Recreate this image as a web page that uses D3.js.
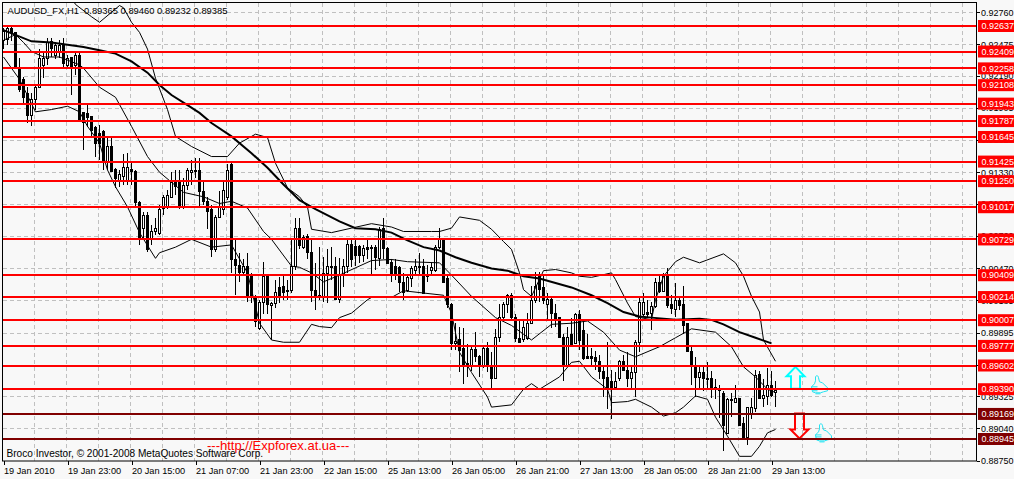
<!DOCTYPE html>
<html>
<head>
<meta charset="utf-8">
<script src="https://cdn.jsdelivr.net/npm/d3@7"></script>
<style>
  html, body { margin: 0; padding: 0; background: #f8f8f8; overflow: hidden; }
  svg { display: block; font-family: "Liberation Sans", sans-serif; }
</style>
</head>
<body>
<div id="chart"></div>
<script>
//~~~~~~~~~~~~~~~~~~~~~~~~~~~~~~~~~~~~
// Data, prices x 10000, one entry per H1 bar
//~~~~~~~~~~~~~~~~~~~~~~~~~~~~~~~~~~~~
const opens = [
  9251,9252,9262,9258,9226,9216,9204,9184,9198,9209,9229,9235,9250,9238,9241,9247,9229,9236,9229,9238,
  9187,9186,9183,9173,9168,9170,9142,9156,9136,9126,9130,9126,9136,9134,9106,9083,9095,9074,9080,9079,
  9101,9102,9111,9124,9124,9102,9122,9133,9134,9135,9116,9107,9100,9064,9093,9100,9111,9140,9055,9050,
  9044,9049,9041,9021,8994,9017,9040,9014,9016,9030,9031,9028,9028,9049,9083,9066,9076,9062,9028,9021,
  9021,9043,9049,9049,9020,9041,9049,9069,9067,9067,9059,9066,9066,9066,9056,9083,9065,9053,9049,9048,
  9035,9028,9038,9046,9048,9049,9041,9046,9046,9066,9073,9038,9015,8980,8984,8976,8962,8961,8975,8969,
  8961,8976,8961,8949,8986,9004,9015,9023,9004,8985,8984,8985,8998,9019,9040,9030,9015,9020,9007,9004,
  8986,8961,8988,8980,9006,8992,8969,8969,8968,8964,8955,8950,8946,8941,8949,8964,8956,8949,8954,8981,
  9006,9008,9007,9013,9035,9027,9040,9015,9011,9019,9015,8998,8973,8961,8950,8954,8948,8949,8941,8939,
  8936,8900,8930,8928,8931,8909,8896,8918,8922,8953,8931,8933,8943,8936.5
];
const highs = [
  9262,9263,9263,9258,9235,9218,9209,9204,9211,9243,9240,9253,9253,9249,9251,9253,9238,9236,9240,9240,
  9187,9195,9183,9174,9175,9171,9165,9165,9137,9135,9149,9150,9143,9135,9107,9097,9097,9086,9092,9104,
  9113,9117,9133,9135,9135,9128,9137,9144,9146,9146,9124,9111,9104,9095,9116,9124,9140,9141,9073,9061,
  9055,9061,9043,9023,9019,9053,9041,9017,9037,9039,9040,9037,9074,9092,9092,9077,9078,9073,9052,9066,
  9057,9064,9066,9057,9056,9055,9073,9073,9073,9068,9068,9073,9068,9068,9084,9092,9066,9055,9055,9049,
  9043,9041,9049,9055,9061,9055,9050,9052,9068,9083,9074,9041,9016,8998,8995,8994,8979,8977,8990,8970,
  8977,8981,8972,8993,9015,9017,9024,9025,9006,9001,9001,9007,9031,9044,9044,9040,9025,9022,9015,9004,
  8988,8995,9003,9007,9010,9001,8988,8976,8973,8970,8959,8981,8956,8954,8965,8970,8972,8961,8983,9022,
  9025,9019,9017,9038,9040,9043,9047,9023,9034,9022,9031,8998,8977,8968,8961,8961,8963,8955,8948,8943,
  8937,8931,8936,8943,8931,8914,8923,8931,8956,8955,8948,8958,8955,8946
];
const lows = [
  9243,9247,9250,9225,9205,9195,9177,9174,9189,9209,9217,9229,9236,9234,9235,9226,9225,9202,9220,9178,
  9153,9173,9165,9147,9144,9135,9135,9133,9119,9120,9122,9122,9122,9102,9068,9074,9062,9068,9077,9077,
  9095,9100,9110,9113,9100,9100,9117,9122,9128,9102,9104,9082,9057,9062,9092,9095,9108,9043,9023,9035,
  9040,9017,9016,8995,8992,9006,9006,8983,9012,9016,9019,9019,9025,9046,9064,9064,9055,9017,9010,9019,
  9017,9016,9037,9019,9016,9030,9043,9048,9049,9052,9053,9055,9041,9046,9049,9055,9052,9035,9037,9026,
  9019,9026,9030,9041,9041,9024,9035,9040,9044,9064,9035,9012,8974,8974,8954,8944,8950,8955,8963,8950,
  8958,8954,8938,8948,8981,9001,9007,9001,8981,8980,8981,8983,8997,9016,9017,9015,9001,8994,8995,8986,
  8946,8959,8977,8979,8974,8965,8967,8959,8956,8948,8932,8921,8912,8939,8946,8955,8941,8940,8932,8972,
  9004,9004,8992,9012,9025,9026,9012,9006,9004,9010,8988,8972,8943,8932,8940,8937,8939,8931,8930,8913,
  8884,8900,8914,8927,8906,8894,8889,8912,8919,8931,8923,8925,8932,8923.2
];
const closes = [
  9259,9262,9258,9226,9207,9200,9184,9198,9209,9235,9235,9249,9244,9247,9247,9231,9235,9226,9238,9180,
  9178,9182,9171,9159,9159,9142,9156,9134,9128,9131,9138,9138,9134,9106,9074,9095,9064,9080,9083,9100,
  9111,9113,9124,9121,9102,9122,9135,9135,9135,9116,9107,9098,9064,9093,9102,9117,9135,9055,9050,9044,
  9049,9023,9021,9000,9017,9040,9015,9016,9026,9023,9026,9027,9049,9083,9068,9075,9062,9028,9021,9023,
  9043,9049,9048,9020,9041,9049,9069,9055,9059,9059,9065,9064,9065,9057,9082,9065,9052,9041,9041,9035,
  9026,9039,9047,9049,9049,9025,9040,9048,9066,9074,9035,9015,8980,8982,8974,8961,8961,8975,8969,8961,
  8976,8961,8949,8986,9004,9015,9023,9004,8985,8981,8995,8998,9019,9031,9029,9019,9020,9007,9003,8986,
  8961,8986,8979,9006,8983,8967,8967,8967,8964,8955,8949,8941,8940,8946,8964,8956,8949,8954,8981,9017,
  9017,9006,9013,9035,9027,9040,9014,9012,9019,9014,8996,8973,8960,8950,8954,8949,8949,8941,8939,8938,
  8907,8930,8929,8931,8907,8896,8923,8923,8952,8931,8934,8943,8934,8938.5
];

const maBars = [0,7,12,16,20,24,28,32,36,39,42,46,49,52,57,62,66,70,74,78,84,88,93,97,101,105,109,113,117,122,126,130,134,138,142,147,151,155,159,162,168,174,177,180,184,188,192];
const maValues = [9260,9250,9249,9247,9245,9242,9239,9232,9222,9211,9202,9193,9186,9177,9165,9150,9137,9122,9108,9100,9089,9083,9082,9079,9072,9066,9063,9057,9052,9047,9045,9040,9038,9034,9030,9023,9016,9008,9004,9003,9001,9002,9001,8997,8990,8985,8980];

const upperBars = [17,18,22,24,27,29,30,32,34,36,38,41,43,47,52,56,59,63,66,68,71,74,76,77,82,87,92,97,100,107,109,112,114,119,122,125,127,129,130,132,135,138,142,144,147,152,153,156,158,162,163,165,168,170,174,180,183,185,187,189,190,193];
const upperValues = [9289,9283,9272,9267,9276,9282,9280,9267,9258,9243,9217,9189,9165,9156,9147,9147,9159,9167,9164,9141,9119,9111,9102,9082,9079,9083,9087,9084,9080,9080,9080,9083,9093,9090,9082,9071,9064,9043,9028,9022,9045,9046,9043,9040,9039,9043,9037,9016,9004,9001,9019,9040,9053,9057,9052,9060,9052,9040,9022,9008,8983,8964];

const middleBars = [0,3,5,7,10,14,19,20,24,28,32,36,39,42,45,50,54,57,61,65,67,72,74,77,80,84,92,97,101,109,112,117,123,127,132,137,142,146,150,154,158,164,168,172,178,182,185,188,191,193];
const middleValues = [9251,9256,9249,9241,9236,9236,9229,9226,9209,9200,9174,9147,9133,9124,9115,9111,9105,9107,9101,9080,9073,9049,9048,9043,9035,9041,9054,9055,9053,9052,9041,9022,9003,8996,8983,8997,8998,9000,8990,8974,8968,8977,8985,8993,8990,8977,8959,8950,8939,8936];

const lowerBars = [0,4,8,12,16,19,21,24,26,28,31,34,38,39,43,47,52,57,61,64,67,70,74,77,79,82,84,87,91,92,97,100,105,110,112,114,117,121,122,127,130,132,134,139,142,144,147,151,152,156,158,162,165,168,170,173,176,178,181,184,187,189,191,193];
const lowerValues = [9236,9216,9187,9189,9192,9187,9174,9159,9135,9120,9102,9079,9056,9061,9066,9073,9066,9068,9043,8998,8983,8981,8981,8997,8995,8994,9003,9007,9019,9021,9021,9027,9025,9023,9007,8972,8954,8932,8923,8925,8939,8944,8939,8950,8963,8964,8950,8939,8927,8928,8930,8923,8915,8918,8923,8933,8930,8914,8897,8879,8879,8888,8900,8903];

// horizontal levels with their labels
const redLevels = [0.92637,0.92409,0.92258,0.92108,0.91943,0.91787,0.91645,0.91425,0.91250,0.91017,0.90729,0.90409,0.90214,0.90007,0.89777,0.89602,0.89390];
const darkLevels = [0.89169,0.88945];

const priceTicks = [0.92760,0.92475,0.92190,0.91905,0.91620,0.91330,0.91045,0.90760,0.90470,0.90185,0.89895,0.89610,0.89325,0.89040,0.88750];
const timeTickBars = [0,16,32,48,64,80,96,112,128,144,160,176,192];
const timeTickLabels = ["19 Jan 2010","19 Jan 23:00","20 Jan 15:00","21 Jan 07:00","21 Jan 23:00","22 Jan 15:00","25 Jan 13:00","26 Jan 05:00","26 Jan 21:00","27 Jan 13:00","28 Jan 05:00","28 Jan 21:00","29 Jan 13:00"];

// signal arrows and thumbs: bar number, price of the anchor
const upArrow = [198, 0.8959];
const downArrow = [199, 0.8895];
const upThumb = [202, 0.8951];
const downThumb = [203, 0.8908];

//~~~~~~~~~~~~~~~~~~~~~~~~~~~~~~~~~~~~
// Scales
//~~~~~~~~~~~~~~~~~~~~~~~~~~~~~~~~~~~~
const width = 1014, height = 479;
const plot = {left: 3, right: 977, top: 3, bottom: 461};

const x = d3.scaleLinear().domain([0, 243.25]).range([3.5, 976.5]);
const y = d3.scaleLinear().domain([0.92637, 0.88945]).range([26, 439]);
const py = v => Math.round(y(v / 10000));

const svg = d3.select("#chart").append("svg")
    .attr("width", width)
    .attr("height", height);

svg.append("defs").append("clipPath").attr("id", "plot-clip")
  .append("rect")
    .attr("x", plot.left).attr("y", plot.top)
    .attr("width", plot.right - plot.left).attr("height", plot.bottom - plot.top);

const body = svg.append("g").attr("clip-path", "url(#plot-clip)");

//~~~~~~~~~~~~~~~~~~~~~~~~~~~~~~~~~~~~
// Grid
//~~~~~~~~~~~~~~~~~~~~~~~~~~~~~~~~~~~~
const gridBars = d3.range(8, 243, 8);
body.append("g").selectAll("line").data(gridBars).join("line")
    .attr("x1", d => Math.floor(x(d)) - 0.5).attr("x2", d => Math.floor(x(d)) - 0.5)
    .attr("y1", plot.top).attr("y2", plot.bottom)
    .attr("stroke", "#c0c0c0").attr("stroke-dasharray", "4 3");

body.append("g").selectAll("line").data(priceTicks).join("line")
    .attr("x1", plot.left).attr("x2", plot.right)
    .attr("y1", d => Math.round(y(d)) + 0.5).attr("y2", d => Math.round(y(d)) + 0.5)
    .attr("stroke", "#c0c0c0").attr("stroke-dasharray", "4 3");

//~~~~~~~~~~~~~~~~~~~~~~~~~~~~~~~~~~~~
// Candles
//~~~~~~~~~~~~~~~~~~~~~~~~~~~~~~~~~~~~
const candles = body.append("g").attr("shape-rendering", "crispEdges")
  .selectAll("g").data(opens).join("g");

candles.append("line")
    .attr("x1", (d, i) => x(i)).attr("x2", (d, i) => x(i))
    .attr("y1", (d, i) => py(highs[i])).attr("y2", (d, i) => py(lows[i]))
    .attr("stroke", "#000");

candles.append("rect")
    .attr("x", (d, i) => x(i) - 1)
    .attr("width", 2)
    .attr("y", (d, i) => Math.min(py(opens[i]), py(closes[i])) + 0.5)
    .attr("height", (d, i) => Math.max(1, Math.abs(py(opens[i]) - py(closes[i]))))
    .attr("fill", (d, i) => closes[i] > opens[i] ? "#fff" : "#000")
    .attr("stroke", "#000");

//~~~~~~~~~~~~~~~~~~~~~~~~~~~~~~~~~~~~
// Bands and moving average
//~~~~~~~~~~~~~~~~~~~~~~~~~~~~~~~~~~~~
function drawLine(bars, values, w) {
    const path = d3.line()
        .x((d, i) => x(bars[i]))
        .y(d => y(d / 10000));
    body.append("path")
        .attr("d", path(values))
        .attr("fill", "none")
        .attr("stroke", "#000")
        .attr("stroke-width", w);
}
drawLine(upperBars, upperValues, 1);
drawLine(middleBars, middleValues, 1);
drawLine(lowerBars, lowerValues, 1);
drawLine(maBars, maValues, 2);

//~~~~~~~~~~~~~~~~~~~~~~~~~~~~~~~~~~~~
// Arrows and thumbs, the level lines go over them
//~~~~~~~~~~~~~~~~~~~~~~~~~~~~~~~~~~~~
function place(anchor) {
    return body.append("g")
        .attr("transform", `translate(${x(anchor[0])},${y(anchor[1])})`)
        .attr("fill", "none");
}
place(upArrow).append("path")
    .attr("d", "M0,0 L9,9.5 L4.5,9.5 L4.5,22 L-4.5,22 L-4.5,9.5 L-9,9.5 Z")
    .attr("stroke", "#00ffff").attr("stroke-width", 2);
place(downArrow).append("path")
    .attr("d", "M0,0 L-9,-9 L-4.5,-9 L-4.5,-25 L4.5,-25 L4.5,-9 L9,-9 Z")
    .attr("stroke", "#ff0000").attr("stroke-width", 2);

const thumb = "M4,1 C5,-1 7,0 7,2 L8,6 L11,7 L16,12 L16,15 L12,16 L9,17 L4,17 L1,16 L0,11 L3,8 L4,5 Z M0,11 L6,11 M0,13 L6,13 M1,15 L6,15 M4,18 L9,18";
[upThumb, downThumb].forEach(a => {
    place(a).append("path").attr("d", thumb)
        .attr("stroke", "#22e4f2").attr("stroke-width", 1);
});

//~~~~~~~~~~~~~~~~~~~~~~~~~~~~~~~~~~~~
// Levels
//~~~~~~~~~~~~~~~~~~~~~~~~~~~~~~~~~~~~
function drawLevels(levels, color) {
    body.append("g").selectAll("line").data(levels).join("line")
        .attr("x1", plot.left).attr("x2", plot.right)
        .attr("y1", d => y(d)).attr("y2", d => y(d))
        .attr("stroke", color).attr("stroke-width", 2)
        .attr("shape-rendering", "crispEdges");
}
drawLevels(redLevels, "#ff0000");
drawLevels(darkLevels, "#800000");

//~~~~~~~~~~~~~~~~~~~~~~~~~~~~~~~~~~~~
// Frame and axes
//~~~~~~~~~~~~~~~~~~~~~~~~~~~~~~~~~~~~
svg.append("rect")
    .attr("x", plot.left - 0.5).attr("y", plot.top - 0.5)
    .attr("width", plot.right - plot.left).attr("height", plot.bottom - plot.top + 0.5)
    .attr("fill", "none").attr("stroke", "#000");

const xAxis = d3.axisBottom(x)
    .tickValues(timeTickBars)
    .tickFormat((d, i) => timeTickLabels[i])
    .tickSize(4);
const xg = svg.append("g")
    .attr("transform", `translate(0,${plot.bottom})`)
    .call(xAxis);
xg.select(".domain").remove();
xg.selectAll("text")
    .attr("text-anchor", "start")
    .attr("y", 6)
    .attr("font-family", "Liberation Sans")
    .attr("font-size", 9.2);
xg.selectAll("line").attr("shape-rendering", "crispEdges");

const yAxis = d3.axisRight(y)
    .tickValues(priceTicks)
    .tickFormat(d => d.toFixed(5))
    .tickSize(3);
const yg = svg.append("g")
    .attr("transform", `translate(${plot.right},0)`)
    .call(yAxis);
yg.select(".domain").remove();
yg.selectAll("text")
    .attr("x", 4)
    .attr("font-family", "Liberation Sans")
    .attr("font-size", 9);
yg.selectAll("line").attr("shape-rendering", "crispEdges");

function drawLevelLabels(levels, color) {
    const tag = svg.append("g").selectAll("g").data(levels).join("g")
        .attr("transform", d => `translate(${plot.right + 1},${y(d)})`);
    tag.append("rect")
        .attr("y", -6).attr("width", 37).attr("height", 12)
        .attr("fill", color);
    tag.append("text")
        .attr("x", 3.5).attr("dy", "0.35em")
        .attr("fill", "#fff").attr("font-size", 9)
        .text(d => d.toFixed(5));
}
drawLevelLabels(redLevels, "#ff0000");
drawLevelLabels(darkLevels, "#800000");

//~~~~~~~~~~~~~~~~~~~~~~~~~~~~~~~~~~~~
// Chart captions
//~~~~~~~~~~~~~~~~~~~~~~~~~~~~~~~~~~~~
svg.append("text").attr("x", 7.5).attr("y", 14).attr("font-size", 9.4)
    .attr("xml:space", "preserve")
    .text("AUDUSD_FX,H1  0.89365 0.89460 0.89232 0.89385");
svg.append("text").attr("x", 6.5).attr("y", 457).attr("font-size", 10.1)
    .text("Broco Investor, © 2001-2008 MetaQuotes Software Corp.");
svg.append("text").attr("x", 207).attr("y", 450).attr("font-size", 13)
    .attr("fill", "#ff0000")
    .text("---http://Expforex.at.ua---");
</script>
</body>
</html>
